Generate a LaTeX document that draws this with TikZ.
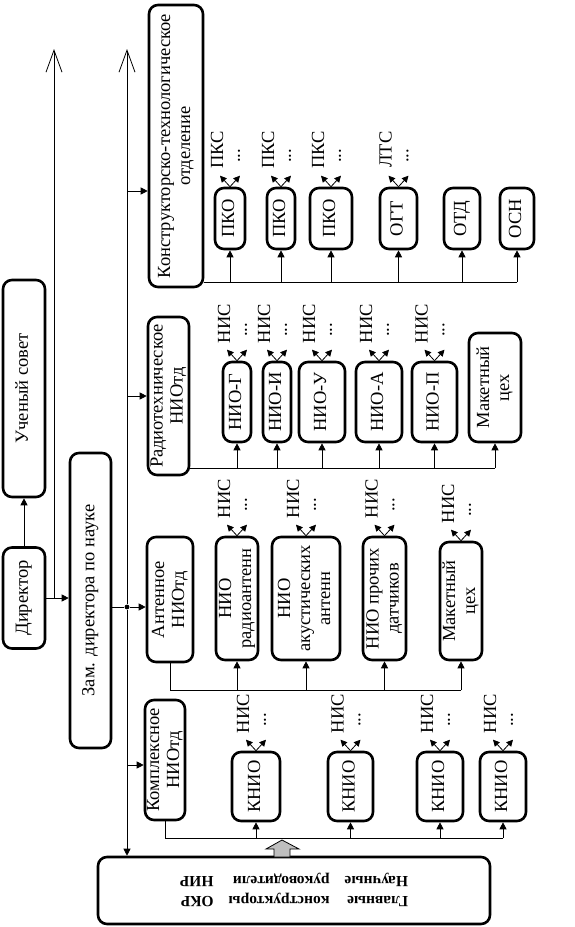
\documentclass[tikz,border=0pt]{standalone}
\usepackage{fontspec}
\setmainfont{Liberation Serif}
\usepackage{graphicx}
\usetikzlibrary{arrows.meta,calc}
\newcommand{\rtext}[1]{\rotatebox{90}{\begin{tabular}{@{}c@{}}#1\end{tabular}}}
\newcommand{\outs}[2]{%
  \draw[sub] (#1.north) -- ++(-10,-11);
  \draw[sub] (#1.north) -- ++(10,-11);
  \node[lbl] (lab-#1) at ($(#1.north)+(-13,-37)$) {#2};
  \node[lbl] (dots-#1) at ($(#1.north)+(9,-31)$) {...};
}
\begin{document}
\begin{tikzpicture}[x=1pt,y=-1pt,
  font=\fontsize{18.5}{20}\selectfont,
  box/.style={draw, line width=2.6pt, rounded corners=9pt, inner sep=0pt, align=center},
  conn/.style={line width=0.8pt},
  arr/.style={conn, -{Triangle[length=7pt,width=7pt]}},
  sub/.style={line width=0.8pt, -{Triangle[length=6.5pt,width=6.5pt]}},
  lbl/.style={rotate=90, inner sep=0pt},
  openarr/.style={conn, -{Straight Barb[length=22pt,width=16pt,line width=0.8pt]}}]
\useasboundingbox (0,0) rectangle (574,927);

% left column
\node[box, minimum width=42pt, minimum height=101pt] (dir) at (24,598) {\rtext{Директор}};
\node[box, minimum width=42pt, minimum height=217pt] (us) at (24,388.5) {\rtext{Ученый совет}};
\node[box, minimum width=41pt, minimum height=295pt] (zam) at (90.5,600.5) {\rtext{Зам. директора по науке}};

% departments
\node[box, minimum width=54pt, minimum height=282pt] (kto) at (176,146) {\rtext{Конструкторско-технологическое\\отделение}};
\node[box, minimum width=41pt, minimum height=158pt] (rto) at (168.5,396) {\rtext{Радиотехническое\\НИОтд}};
\node[box, minimum width=46pt, minimum height=125pt] (ato) at (170,599.5) {\rtext{Антенное\\НИОтд}};
\node[box, minimum width=40pt, minimum height=120pt] (kno) at (165,760) {\rtext{Комплексное\\НИОтд}};

% bottom box
\node[box, minimum width=392pt, minimum height=67pt] (bot) at (294,890.5)
  {\rotatebox{180}{\fontsize{15.5}{20}\selectfont\bfseries
   \begin{tabular}{@{}l@{\hspace{15pt}}l@{\hspace{15pt}}l@{}}
   Главные & конструкторы & ОКР\\ Научные & руководители & НИР
   \end{tabular}}};

% KTO row
\node[box, minimum width=30pt, minimum height=61pt] (pko1) at (230,218.5) {\rtext{ПКО}};
\node[box, minimum width=28pt, minimum height=61pt] (pko2) at (281,218.5) {\rtext{ПКО}};
\node[box, minimum width=42pt, minimum height=61pt] (pko3) at (331,218.5) {\rtext{ПКО}};
\node[box, minimum width=37pt, minimum height=61pt] (ogt) at (398.5,218.5) {\rtext{ОГТ}};
\node[box, minimum width=36pt, minimum height=61pt] (otd) at (462,218.5) {\rtext{ОТД}};
\node[box, minimum width=34pt, minimum height=61pt] (osn) at (517,218.5) {\rtext{ОСН}};

% Radio row
\node[box, minimum width=28pt, minimum height=80pt] (ng) at (237,402) {\rtext{НИО-Г}};
\node[box, minimum width=28pt, minimum height=80pt] (ni) at (277,402) {\rtext{НИО-И}};
\node[box, minimum width=46pt, minimum height=80pt] (nu) at (322,402) {\rtext{НИО-У}};
\node[box, minimum width=46pt, minimum height=80pt] (na) at (379,402) {\rtext{НИО-А}};
\node[box, minimum width=45pt, minimum height=80pt] (np) at (434.5,402) {\rtext{НИО-П}};
\node[box, minimum width=52pt, minimum height=109pt] (mc1) at (495,387.5) {\rtext{Макетный\\цех}};

% Antenna row
\node[box, minimum width=42pt, minimum height=123pt] (nr) at (237,598.5) {\rtext{НИО\\радиоантенн}};
\node[box, minimum width=68pt, minimum height=123pt] (nak) at (306,598.5) {\rtext{НИО\\акустических\\антенн}};
\node[box, minimum width=43pt, minimum height=123pt] (npd) at (384.5,598.5) {\rtext{НИО прочих\\датчиков}};
\node[box, minimum width=42pt, minimum height=118pt] (mc2) at (461,601) {\rtext{Макетный\\цех}};

% Complex row
\node[box, minimum width=48pt, minimum height=69pt] (k1) at (256,786.5) {\rtext{КНИО}};
\node[box, minimum width=45pt, minimum height=69pt] (k2) at (350.5,786.5) {\rtext{КНИО}};
\node[box, minimum width=46pt, minimum height=69pt] (k3) at (440,786.5) {\rtext{КНИО}};
\node[box, minimum width=46pt, minimum height=69pt] (k4) at (503,786.5) {\rtext{КНИО}};

% output arrows and labels
\outs{pko1}{ПКС}
\outs{pko2}{ПКС}
\outs{pko3}{ПКС}
\outs{ogt}{ЛТС}
\outs{ng}{НИС}
\outs{ni}{НИС}
\outs{nu}{НИС}
\outs{na}{НИС}
\outs{np}{НИС}
\outs{nr}{НИС}
\outs{nak}{НИС}
\outs{npd}{НИС}
\outs{mc2}{НИС}
\outs{k1}{НИС}
\outs{k2}{НИС}
\outs{k3}{НИС}
\outs{k4}{НИС}

% left connections
\draw[arr] (dir.north) -- (us.south);
\draw[arr] (dir.east) -- (zam.west |- dir.east);
\draw[openarr] (dir.east -| 54,0) -- (54,49);

\node[circle, fill, inner sep=1.7pt] (dot) at (127,607) {};
\draw[conn] (zam.east |- dot) -- (dot);
\draw[arr] (dot) -- (ato.west |- dot);
\draw[openarr] (dot) -- (dot |- 0,49);
\draw[arr] (dot) -- (dot |- bot.north);
\draw[arr] (dot |- 0,191) -- (kto.west |- 0,191);
\draw[arr] (dot |- rto.west) -- (rto.west);
\draw[arr] (dot |- 0,765) -- (kno.west |- 0,765);

% buses
\coordinate (kb) at (kto.east |- 0,282);
\draw[conn] (kb) -- (kb -| osn);
\foreach \n in {pko1,pko2,pko3,ogt,otd,osn} \draw[arr] (kb -| \n) -- (\n.south);

\coordinate (rb) at (rto.east |- 0,468);
\draw[conn] (rb) -- (rb -| mc1);
\foreach \n in {ng,ni,nu,na,np,mc1} \draw[arr] (rb -| \n) -- (\n.south);

\coordinate (ab) at (ato.south |- 0,690);
\draw[conn] (ato.south) -- (ab) -- (ab -| mc2);
\foreach \n in {nr,nak,npd,mc2} \draw[arr] (ab -| \n) -- (\n.south);

\coordinate (cb) at (kno.south |- 0,838);
\draw[conn] (kno.south) -- (cb) -- (cb -| k4);
\foreach \n in {k1,k2,k3,k4} \draw[arr] (cb -| \n) -- (\n.south);

% gray block arrow
\draw[fill=gray!50, line width=0.8pt] (274,857) -- (274,849) -- (266,849) -- (282,840) -- (299,849) -- (290,849) -- (290,857) -- cycle;
\end{tikzpicture}
\end{document}
